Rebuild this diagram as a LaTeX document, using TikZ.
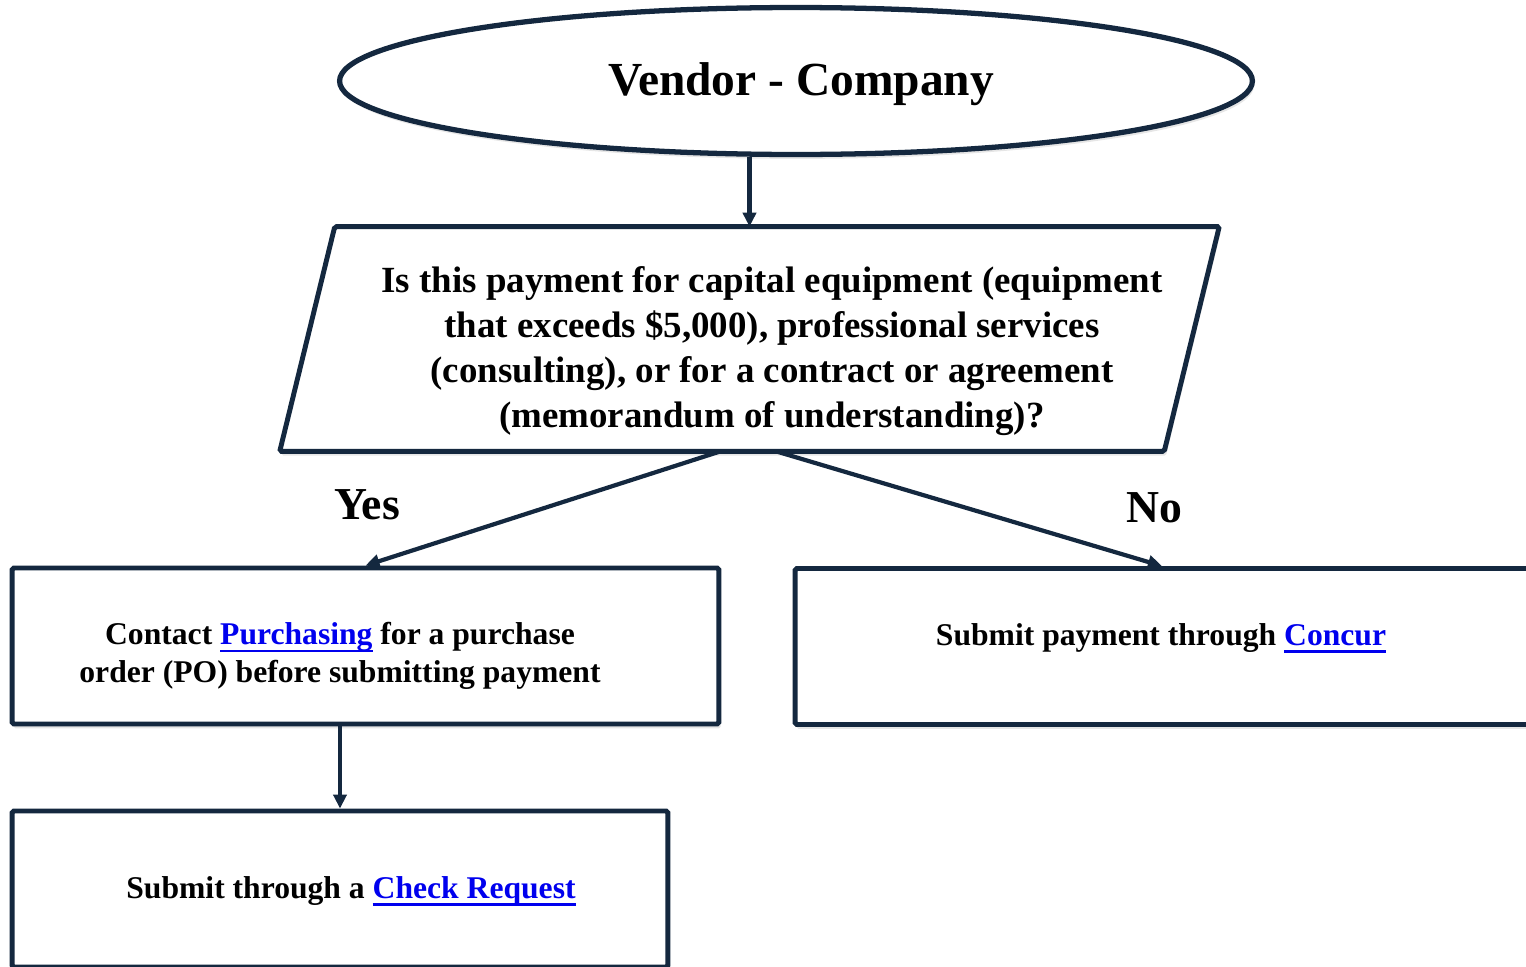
\documentclass[tikz,border=0pt]{standalone}
\usepackage{fontspec}
\setmainfont{Liberation Serif}
\usetikzlibrary{positioning,arrows.meta,shapes.geometric,shadows}
\definecolor{navy}{HTML}{14283F}
\definecolor{linkblue}{HTML}{0000EE}
\newcommand{\lnk}[1]{\textcolor{linkblue}{\setbox0\hbox{#1}\rlap{\rule[-4.4pt]{\wd0}{1.6pt}}\box0}}

\begin{document}
\begin{tikzpicture}[x=0.02cm, y=-0.02cm, font=\bfseries,
  line/.style={draw=navy, line width=2.8pt, rounded corners=1pt},
  shade/.style={fill=white, drop shadow={opacity=0.2, shadow xshift=1pt, shadow yshift=-2.5pt}},
  box/.style={line, shade, minimum width=#1, minimum height=3.12cm},
  arr/.style={navy, line width=2.4pt, -{Triangle[length=8pt, width=7.5pt]}},
  txt/.style={align=center, font=\bfseries\fontsize{18}{21.6}\selectfont},
  lbl/.style={font=\bfseries\fontsize{26}{30}\selectfont}]
  \useasboundingbox (0,0) rectangle (1526,967);
  % shapes
  \node[ellipse, line, shade, line width=3pt, minimum width=18.26cm, minimum height=2.94cm] (top) at (796,81) {};
  \node[font=\bfseries\fontsize{27}{32}\selectfont] (toptext) at (801,84) {Vendor - Company};
  \node[minimum width=18.78cm, minimum height=4.48cm] (q) at (749.5,339) {};
  \draw[line, shade] ([xshift=1.1cm]q.north west) -- (q.north east) -- ([xshift=-1.1cm]q.south east) -- (q.south west) -- cycle;
  \node[align=center, font=\bfseries\fontsize{21}{25.6}\selectfont] (qtext) at (772,351)
    {Is this payment for capital equipment (equipment\\ that exceeds \$5,000), professional services\\ (consulting), or for a contract or agreement\\ (memorandum of understanding)?};
  \node[box=14.14cm] (pc) at (365.5,646) {};
  \node[txt] (pctext) at (340,656) {Contact \lnk{Purchasing} for a purchase\\ order (PO) before submitting payment};
  \node[box=14.68cm] (cc) at (1162,646.5) {};
  \node[txt] (cctext) at (1161,638) {Submit payment through \lnk{Concur}};
  \node[box=13.12cm] (cr) at (340,889) {};
  \node[txt] (crtext) at (351,891) {Submit through a \lnk{Check Request}};
  \node[lbl] (yes) at (367,505) {Yes};
  \node[lbl] (no) at (1154,508) {No};
  % connectors
  \draw[arr] (top.south -| q.north) -- (q.north);
  \draw[arr] ([xshift=-0.58cm]q.south) -- (pc.north);
  \draw[arr] ([xshift=0.53cm]q.south) -- (cc.north);
  \draw[arr] (cr.north |- pc.south) -- (cr.north);
\end{tikzpicture}
\end{document}
